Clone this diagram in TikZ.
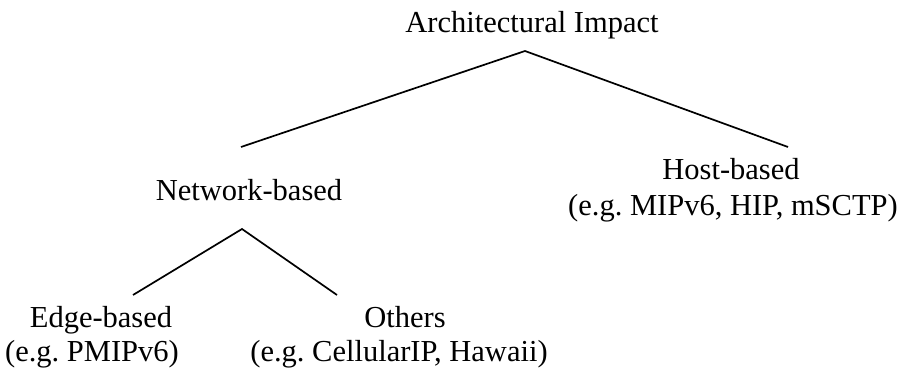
\documentclass[tikz,border=0pt]{standalone}
\usepackage{fontspec}
\setmainfont{Liberation Serif}
\frenchspacing
\begin{document}
\begin{tikzpicture}[x=1pt,y=-1pt,
  lbl/.style={anchor=base,inner sep=0pt,font=\fontsize{30.5}{36}\selectfont},
  edge/.style={draw=black,line width=1.7pt}]
\useasboundingbox (0,0) rectangle (903,374);
\node[lbl] (root) at (532,33) {Architectural Impact};
\node[lbl] (net) at (249,201) {Network-based};
\node[lbl] (host) at (731,180) {Host-based};
\node[lbl] (hosteg) at (733,216) {(e.g. MIPv6, HIP, mSCTP)};
\node[lbl] (edgeb) at (101,327) {Edge-based};
\node[lbl] (edgeeg) at (92,362) {(e.g. PMIPv6)};
\node[lbl] (oth) at (405,327) {Others};
\node[lbl] (otheg) at (399,362) {(e.g. CellularIP, Hawaii)};
\coordinate (top) at (525,51);
\coordinate (netin) at (241,147);
\coordinate (hostin) at (788,147);
\coordinate (netout) at (242,229);
\coordinate (edgein) at (133,295);
\coordinate (othin) at (337,295);
\draw[edge] (netin) -- (top) -- (hostin);
\draw[edge] (edgein) -- (netout) -- (othin);
\end{tikzpicture}
\end{document}
